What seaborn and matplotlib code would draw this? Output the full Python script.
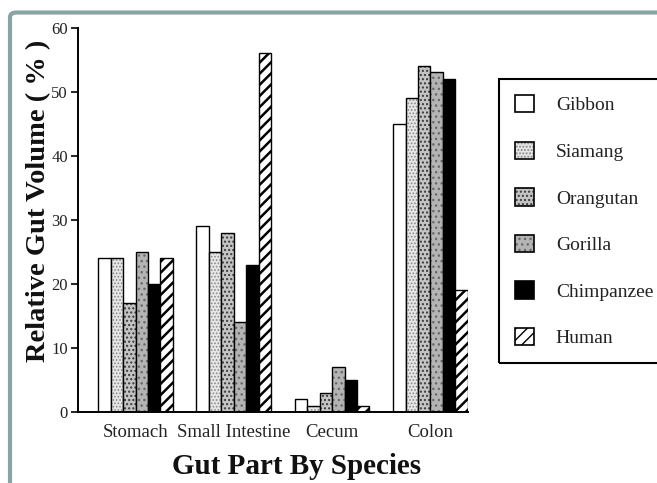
import matplotlib
matplotlib.use("Agg")
import matplotlib.pyplot as plt
from matplotlib.patches import Patch, FancyBboxPatch, Rectangle
from matplotlib.colors import to_rgba
import seaborn as sns
import pandas as pd

# ---- data ----
gut_parts = ["Stomach", "Small Intestine", "Cecum", "Colon"]
species = ["Gibbon", "Siamang", "Orangutan", "Gorilla", "Chimpanzee", "Human"]
gibbon = [24, 29, 2, 45]
siamang = [24, 25, 1, 49]
orangutan = [17, 28, 3, 54]
gorilla = [25, 14, 7, 53]
chimpanzee = [20, 23, 5, 52]
human = [24, 56, 1, 19]
y_ticks = [0, 10, 20, 30, 40, 50, 60]

series = [gibbon, siamang, orangutan, gorilla, chimpanzee, human]
rows = []
for sp, vals in zip(species, series):
    for part, v in zip(gut_parts, vals):
        rows.append({"part": part, "species": sp, "value": v})
df = pd.DataFrame(rows)

# ---- styles ----
styles = {
    "Gibbon":     dict(fc="white",   hatch=None,    hc="black", hlw=1.0),
    "Siamang":    dict(fc="#e6e6e6", hatch=".....", hc="#8a8a8a", hlw=0.8),
    "Orangutan":  dict(fc="#c4c4c4", hatch="....",  hc="#3a3a3a", hlw=1.0),
    "Gorilla":    dict(fc="#b4b4b4", hatch="...",   hc="#6a6a6a", hlw=1.0),
    "Chimpanzee": dict(fc="black",   hatch=None,    hc="black", hlw=1.0),
    "Human":      dict(fc="white",   hatch="///",   hc="black", hlw=1.8),
}


def style_patch(p, st):
    p.set_facecolor(st["fc"])
    p.set_edgecolor("black")
    if st["hatch"]:
        p.set_hatch(st["hatch"])
        try:
            p.set_hatch_linewidth(st["hlw"])
        except AttributeError:
            pass
        try:
            p.set_hatchcolor(st["hc"])
        except AttributeError:
            p._hatch_color = to_rgba(st["hc"])


sns.set_theme(style="white")
plt.rcParams["font.family"] = ["Liberation Serif", "DejaVu Serif"]
plt.rcParams["hatch.linewidth"] = 1.0

fig = plt.figure(figsize=(6.57, 4.83), dpi=100)
fig.patch.set_facecolor("white")
ax = fig.add_axes([0.118, 0.147, 0.594, 0.796])

sns.barplot(data=df, x="part", y="value", hue="species", order=gut_parts,
            hue_order=species, width=0.76, legend=False, ax=ax,
            edgecolor="black", linewidth=1.0, saturation=1)

for sp, cont in zip(species, ax.containers):
    for bar in cont:
        style_patch(bar, styles[sp])

ax.set_xlim(-0.59, 3.38)
ax.set_ylim(0, 60)
ax.set_yticks(y_ticks)
ax.set_yticklabels([str(t) for t in y_ticks], fontsize=12)
ax.tick_params(axis="y", direction="out", length=5, width=1.2, color="black",
               left=True, pad=2)
ax.tick_params(axis="x", length=0, pad=9, labelsize=13.5)
for lbl in ax.get_xticklabels() + ax.get_yticklabels():
    lbl.set_color("#222222")

for s in ["top", "right"]:
    ax.spines[s].set_visible(False)
for s in ["left", "bottom"]:
    ax.spines[s].set_color("black")
    ax.spines[s].set_linewidth(1.4)

ax.set_xlabel("Gut Part By Species", fontsize=21, fontweight="bold",
              color="#111111")
ax.set_ylabel("Relative Gut Volume ( % )", fontsize=20.5, fontweight="bold",
              color="#111111")
ax.xaxis.set_label_coords(0.562, -0.106)
ax.yaxis.set_label_coords(-0.067, 0.549)

handles = []
for sp in species:
    h = Patch(linewidth=1.2, label=sp)
    style_patch(h, styles[sp])
    handles.append(h)
leg = fig.legend(handles=handles, loc="upper left",
                 bbox_to_anchor=(515 / 657, 1 - 95 / 483),
                 frameon=False, fontsize=14, handlelength=1.0, handleheight=1.0,
                 handletextpad=1.1, labelspacing=1.4, borderpad=0,
                 borderaxespad=0)
for t in leg.get_texts():
    t.set_color("#222222")

# legend frame (extends past the right edge like the reference)
frame = Rectangle((499 / 657, 1 - 363 / 483), 0.3, (363 - 79) / 483,
                  transform=fig.transFigure, facecolor="none",
                  edgecolor="black", linewidth=1.5, clip_on=False)
fig.patches.append(frame)

# outer teal border
border = FancyBboxPatch((10 / 657, -0.1), 1.2, 1 - 12.5 / 483 + 0.1,
                        boxstyle="round,pad=0,rounding_size=0.01",
                        transform=fig.transFigure, facecolor="none",
                        edgecolor="#8aa3a3", linewidth=3, clip_on=False)
fig.patches.append(border)

fig.savefig("out.png", dpi=100)
